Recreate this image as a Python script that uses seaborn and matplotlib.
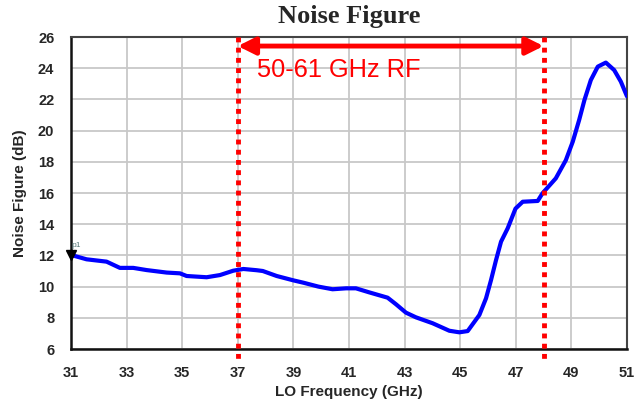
import matplotlib
matplotlib.use("Agg")
import matplotlib.pyplot as plt
import seaborn as sns
import pandas as pd

# Data
freq_ghz = [31.0, 31.56, 32.28, 32.76, 33.24, 33.72, 34.44, 34.92, 35.16, 35.88,
            36.36, 36.84, 37.2, 37.68, 37.9, 38.4, 39.0, 39.36, 39.9, 40.41,
            40.9, 41.25, 41.73, 42.39, 42.69, 43.05, 43.41, 44.01, 44.61, 44.97,
            45.27, 45.69, 45.93, 46.11, 46.29, 46.47, 46.71, 46.99, 47.25, 47.79,
            47.96, 48.44, 48.8, 49.05, 49.28, 49.47, 49.7, 49.95, 50.24, 50.54,
            50.78, 51.0]
noise_figure_db = [12.03, 11.75, 11.6, 11.2, 11.2, 11.06, 10.9, 10.85, 10.68, 10.6,
                   10.74, 11.02, 11.13, 11.05, 11.0, 10.68, 10.4, 10.25, 10.0, 9.83,
                   9.89, 9.89, 9.63, 9.29, 8.87, 8.33, 8.03, 7.65, 7.17, 7.07,
                   7.15, 8.18, 9.25, 10.42, 11.7, 12.88, 13.74, 15.0, 15.44, 15.49,
                   15.98, 16.94, 18.1, 19.29, 20.68, 21.96, 23.24, 24.1, 24.36, 23.88,
                   23.14, 22.2]
band_edges_ghz = [37, 48]
band_label = "50-61 GHz RF"
x_ticks = [31, 33, 35, 37, 39, 41, 43, 45, 47, 49, 51]
y_ticks = [6, 8, 10, 12, 14, 16, 18, 20, 22, 24, 26]
marker_label = "p1"

df = pd.DataFrame({"LO Frequency (GHz)": freq_ghz, "Noise Figure (dB)": noise_figure_db})

sns.set_style("whitegrid")
plt.rcParams["font.family"] = ["Liberation Sans", "DejaVu Sans"]

fig = plt.figure(figsize=(6.36, 4.08), dpi=100)
ax = fig.add_axes([0.1116, 0.1446, 0.8742, 0.7647])

sns.lineplot(data=df, x="LO Frequency (GHz)", y="Noise Figure (dB)", ax=ax,
             color="#0000ff", linewidth=3.0, zorder=3)

ax.set_xlim(x_ticks[0], x_ticks[-1])
ax.set_ylim(y_ticks[0], y_ticks[-1])
ax.set_xticks(x_ticks)
ax.set_yticks(y_ticks)
ax.set_xticklabels([str(t) for t in x_ticks], fontweight="bold", fontsize=10.5)
ax.set_yticklabels([str(t) for t in y_ticks], fontweight="bold", fontsize=10.5)
ax.tick_params(axis="x", pad=12, length=0)
ax.tick_params(axis="y", pad=12, length=0)
ax.set_xlabel("LO Frequency (GHz)", fontweight="bold", fontsize=11, labelpad=4)
ax.set_ylabel("Noise Figure (dB)", fontweight="bold", fontsize=11, labelpad=8)
ax.grid(True, color="#c8c8c8", linewidth=1.3)

for side in ["top", "right"]:
    ax.spines[side].set_color("#444444")
    ax.spines[side].set_linewidth(1.5)
for side in ["left", "bottom"]:
    ax.spines[side].set_color("#111111")
    ax.spines[side].set_linewidth(1.8)

# Band edges (dotted red), extending a bit below the axes
for xe in band_edges_ghz:
    ax.plot([xe, xe], [26, 5.3], color="#ff0000", linewidth=3.5,
            linestyle=(0, (1, 1.1)), clip_on=False, zorder=4)

# Double-headed arrow
ax.annotate("", xy=(band_edges_ghz[1], 25.42), xytext=(band_edges_ghz[0], 25.42),
            arrowprops=dict(arrowstyle="<|-|>", color="#ff0000", lw=3.5,
                            mutation_scale=26, shrinkA=0, shrinkB=0), zorder=5)
ax.text(37.68, 23.9, band_label, color="#ff0000", fontsize=18.3, va="center", ha="left")

# Marker p1
ax.plot([freq_ghz[0]], [noise_figure_db[0]], marker="v", color="black", markersize=7,
        clip_on=False, zorder=6)
ax.text(freq_ghz[0] + 0.02, noise_figure_db[0] + 0.35, marker_label, fontsize=6,
        color="#557777", ha="left", va="bottom")

fig.text(0.549, 1 - 23 / 408, "Noise Figure", ha="center", va="baseline",
         fontsize=19, fontweight="bold", family=["Liberation Serif", "DejaVu Serif"])

fig.savefig("out.png", dpi=100)
